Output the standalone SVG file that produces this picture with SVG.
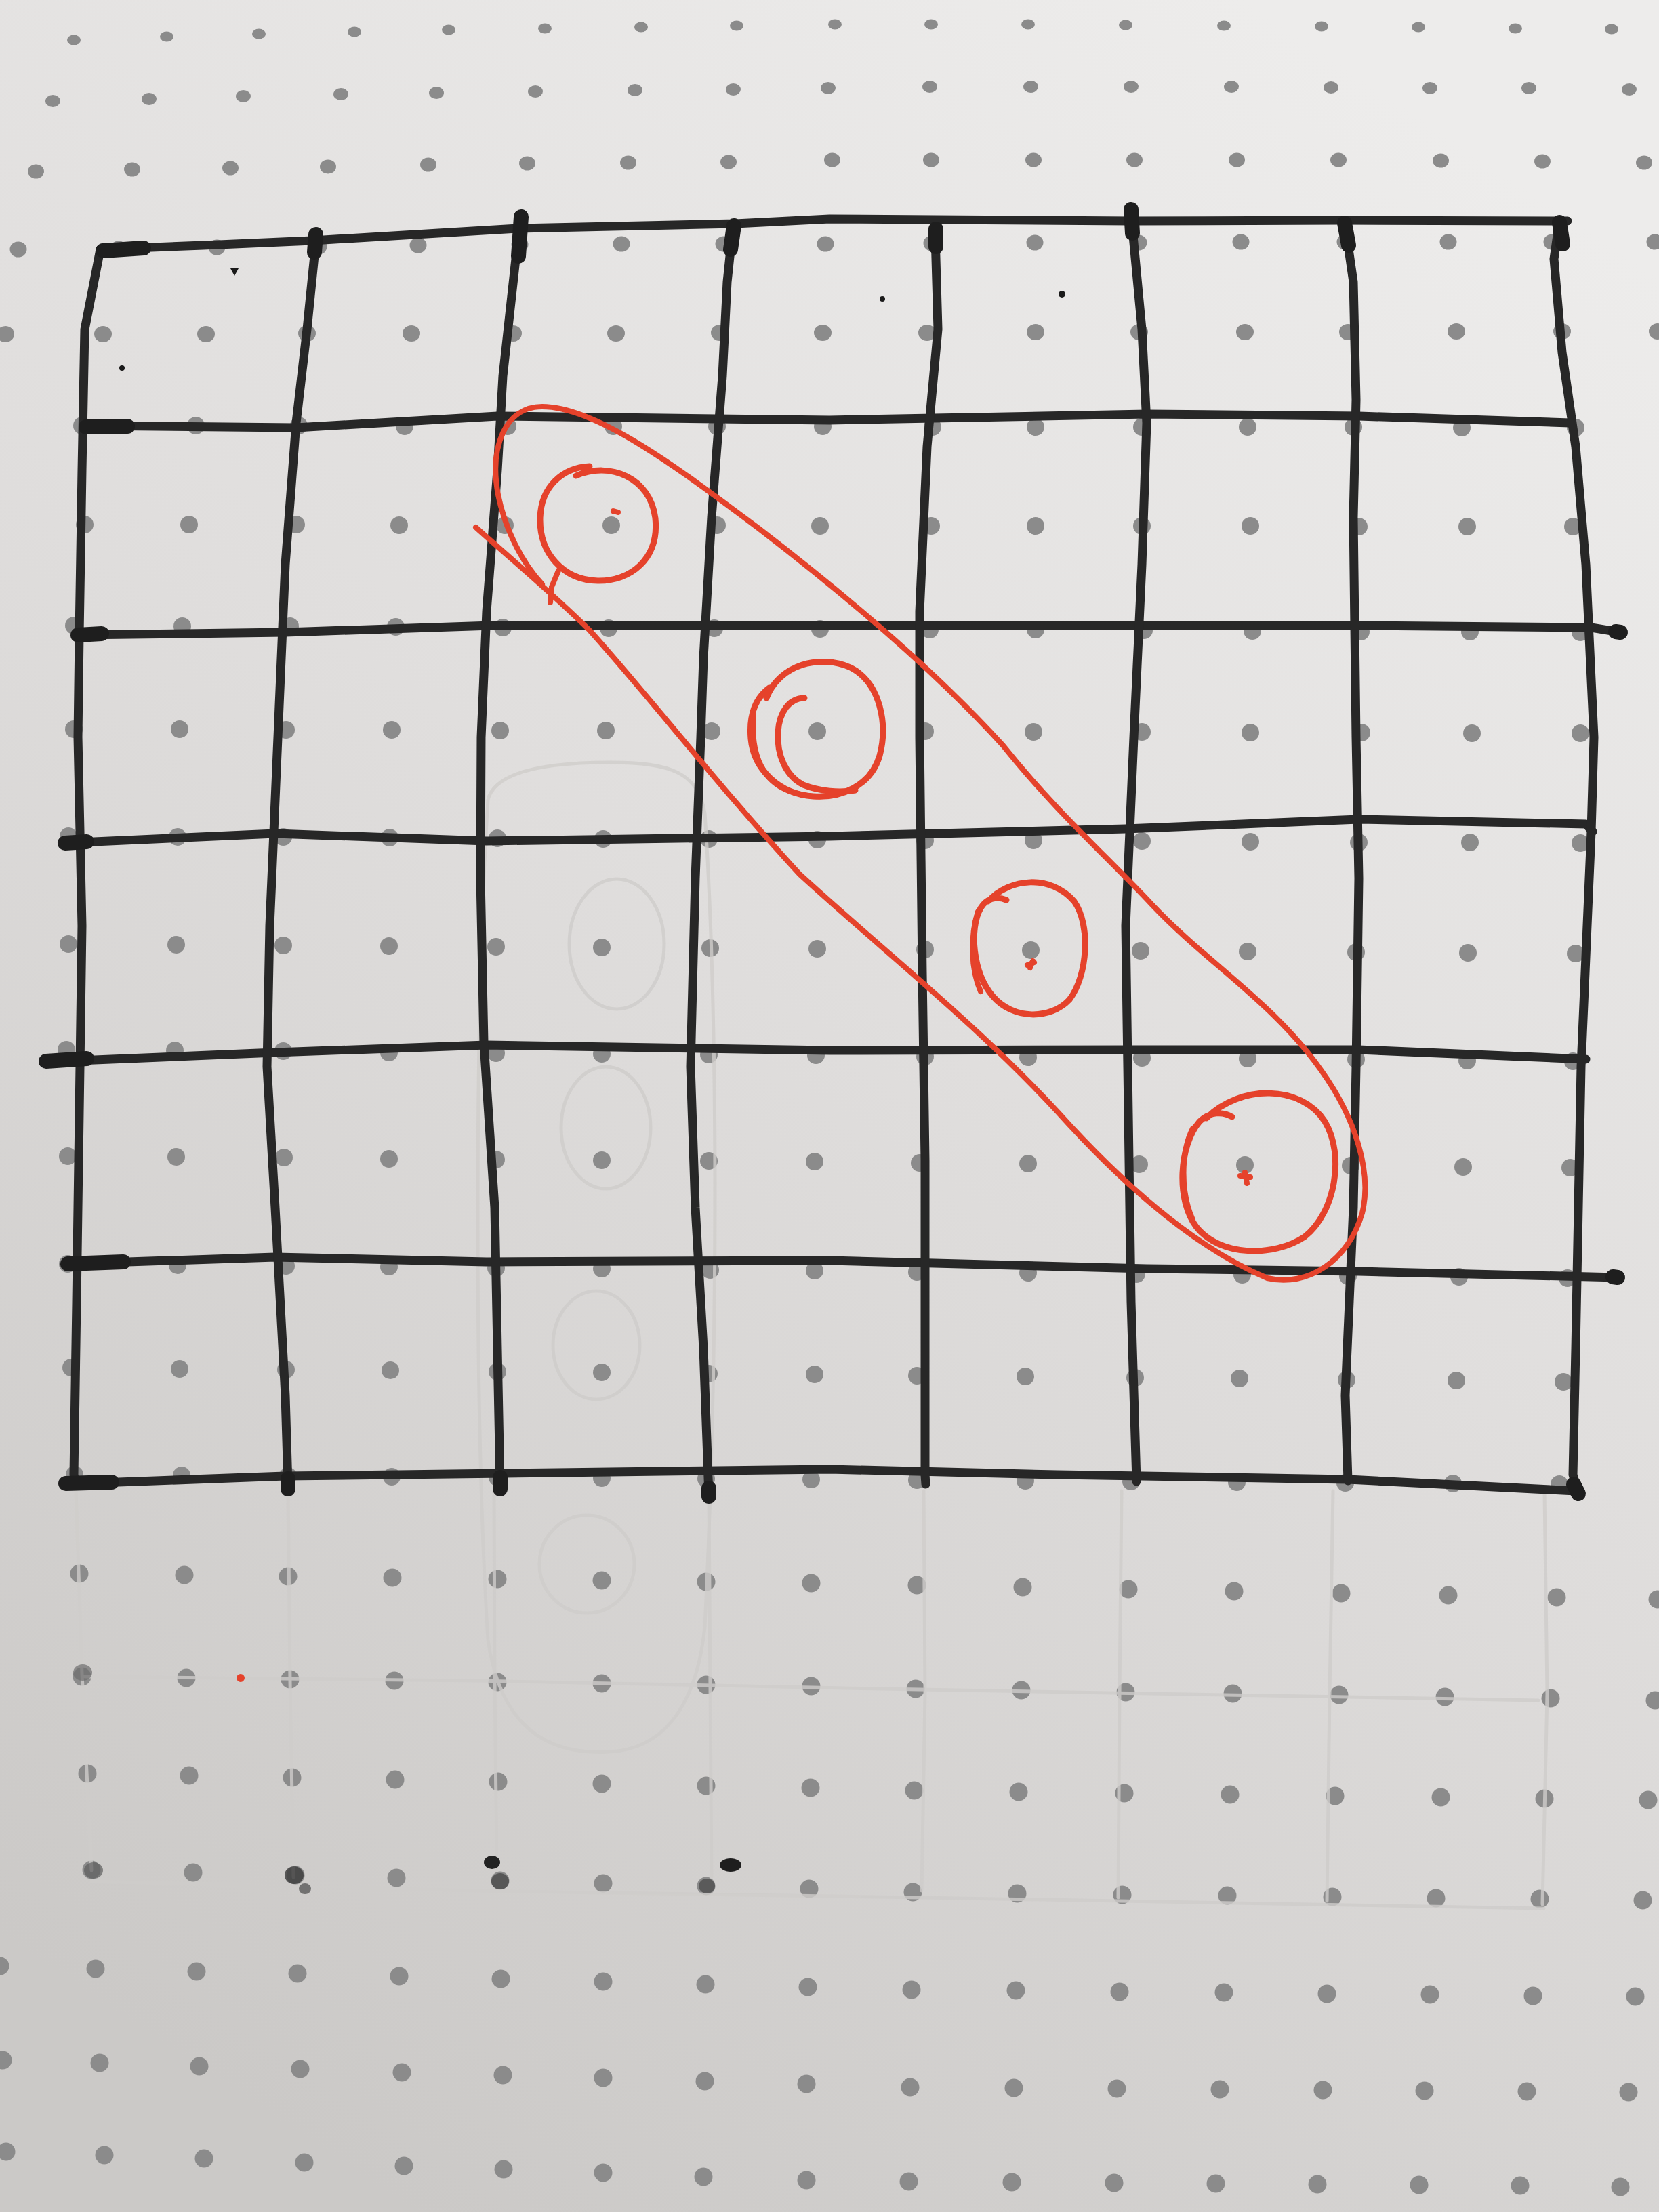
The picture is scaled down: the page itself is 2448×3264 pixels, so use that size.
<svg xmlns="http://www.w3.org/2000/svg" width="2448" height="3264" viewBox="0 0 2448 3264">
<defs>
<linearGradient id="paperGrad" x1="0.75" y1="0" x2="0.25" y2="1">
<stop offset="0" stop-color="#edeceb"/>
<stop offset="0.45" stop-color="#e0dedd"/>
<stop offset="1" stop-color="#cbc9c7"/>
</linearGradient>
<style>
.dt{fill:#8b8b8b}
.gh{fill:none;stroke:#cfcdcb;stroke-width:5;stroke-linecap:round;stroke-linejoin:round;opacity:0.8}
.ink{fill:none;stroke:#272727;stroke-width:13;stroke-linecap:round;stroke-linejoin:round}
.blob{fill:none;stroke:#1e1e1e;stroke-width:22;stroke-linecap:round}
.red{fill:none;stroke:#e5422b;stroke-width:8;stroke-linecap:round;stroke-linejoin:round}
.redc{fill:none;stroke:#e5422b;stroke-width:9;stroke-linecap:round;stroke-linejoin:round}
.speck{fill:#1a1a1a}
</style>
</defs>
<rect id="paper" x="0" y="0" width="2448" height="3264" fill="url(#paperGrad)"/>
<g id="dots" class="dt">
<ellipse cx="109" cy="59" rx="10" ry="7.5"/><ellipse cx="246" cy="54" rx="10" ry="7.5"/><ellipse cx="382" cy="50" rx="10" ry="7.5"/><ellipse cx="523" cy="47" rx="10" ry="7.5"/><ellipse cx="662" cy="44" rx="10" ry="7.5"/><ellipse cx="804" cy="42" rx="10" ry="7.5"/><ellipse cx="946" cy="40" rx="10" ry="7.5"/><ellipse cx="1087" cy="38" rx="10" ry="7.5"/><ellipse cx="1232" cy="36" rx="10" ry="7.5"/><ellipse cx="1374" cy="36" rx="10" ry="7.5"/><ellipse cx="1517" cy="36" rx="10" ry="7.5"/><ellipse cx="1661" cy="37" rx="10" ry="7.5"/><ellipse cx="1806" cy="38" rx="10" ry="7.5"/><ellipse cx="1950" cy="39" rx="10" ry="7.5"/><ellipse cx="2093" cy="40" rx="10" ry="7.5"/><ellipse cx="2236" cy="42" rx="10" ry="7.5"/><ellipse cx="2378" cy="43" rx="10" ry="7.5"/>
<ellipse cx="78" cy="149" rx="11" ry="9"/><ellipse cx="220" cy="146" rx="11" ry="9"/><ellipse cx="359" cy="142" rx="11" ry="9"/><ellipse cx="503" cy="139" rx="11" ry="9"/><ellipse cx="644" cy="137" rx="11" ry="9"/><ellipse cx="790" cy="135" rx="11" ry="9"/><ellipse cx="937" cy="133" rx="11" ry="9"/><ellipse cx="1082" cy="132" rx="11" ry="9"/><ellipse cx="1222" cy="130" rx="11" ry="9"/><ellipse cx="1372" cy="128" rx="11" ry="9"/><ellipse cx="1521" cy="128" rx="11" ry="9"/><ellipse cx="1669" cy="128" rx="11" ry="9"/><ellipse cx="1817" cy="128" rx="11" ry="9"/><ellipse cx="1964" cy="129" rx="11" ry="9"/><ellipse cx="2110" cy="130" rx="11" ry="9"/><ellipse cx="2256" cy="130" rx="11" ry="9"/><ellipse cx="2404" cy="132" rx="11" ry="9"/>
<ellipse cx="53" cy="253" rx="12" ry="10.5"/><ellipse cx="195" cy="250" rx="12" ry="10.5"/><ellipse cx="340" cy="248" rx="12" ry="10.5"/><ellipse cx="484" cy="246" rx="12" ry="10.5"/><ellipse cx="632" cy="243" rx="12" ry="10.5"/><ellipse cx="778" cy="241" rx="12" ry="10.5"/><ellipse cx="927" cy="240" rx="12" ry="10.5"/><ellipse cx="1075" cy="239" rx="12" ry="10.5"/><ellipse cx="1228" cy="236" rx="12" ry="10.5"/><ellipse cx="1374" cy="236" rx="12" ry="10.5"/><ellipse cx="1525" cy="236" rx="12" ry="10.5"/><ellipse cx="1674" cy="236" rx="12" ry="10.5"/><ellipse cx="1825" cy="236" rx="12" ry="10.5"/><ellipse cx="1975" cy="236" rx="12" ry="10.5"/><ellipse cx="2126" cy="237" rx="12" ry="10.5"/><ellipse cx="2276" cy="238" rx="12" ry="10.5"/><ellipse cx="2426" cy="240" rx="12" ry="10.5"/>
<ellipse cx="27" cy="368" rx="12.5" ry="11.5"/><ellipse cx="175" cy="367" rx="12.5" ry="11.5"/><ellipse cx="320" cy="365" rx="12.5" ry="11.5"/><ellipse cx="470" cy="364" rx="12.5" ry="11.5"/><ellipse cx="617" cy="362" rx="12.5" ry="11.5"/><ellipse cx="767" cy="361" rx="12.5" ry="11.5"/><ellipse cx="917" cy="360" rx="12.5" ry="11.5"/><ellipse cx="1068" cy="360" rx="12.5" ry="11.5"/><ellipse cx="1218" cy="360" rx="12.5" ry="11.5"/><ellipse cx="1375" cy="359" rx="12.5" ry="11.5"/><ellipse cx="1527" cy="358" rx="12.5" ry="11.5"/><ellipse cx="1680" cy="358" rx="12.5" ry="11.5"/><ellipse cx="1831" cy="357" rx="12.5" ry="11.5"/><ellipse cx="1985" cy="357" rx="12.5" ry="11.5"/><ellipse cx="2137" cy="357" rx="12.5" ry="11.5"/><ellipse cx="2290" cy="357" rx="12.5" ry="11.5"/><ellipse cx="2442" cy="357" rx="12.5" ry="11.5"/>
<ellipse cx="8" cy="493" rx="13" ry="12"/><ellipse cx="152" cy="493" rx="13" ry="12"/><ellipse cx="304" cy="493" rx="13" ry="12"/><ellipse cx="453" cy="492" rx="13" ry="12"/><ellipse cx="607" cy="492" rx="13" ry="12"/><ellipse cx="757" cy="492" rx="13" ry="12"/><ellipse cx="909" cy="492" rx="13" ry="12"/><ellipse cx="1062" cy="491" rx="13" ry="12"/><ellipse cx="1214" cy="491" rx="13" ry="12"/><ellipse cx="1368" cy="491" rx="13" ry="12"/><ellipse cx="1528" cy="490" rx="13" ry="12"/><ellipse cx="1681" cy="490" rx="13" ry="12"/><ellipse cx="1837" cy="490" rx="13" ry="12"/><ellipse cx="1989" cy="490" rx="13" ry="12"/><ellipse cx="2149" cy="489" rx="13" ry="12"/><ellipse cx="2305" cy="489" rx="13" ry="12"/><ellipse cx="2446" cy="489" rx="13" ry="12"/>
<circle cx="121" cy="628" r="13"/><circle cx="289" cy="628" r="13"/><circle cx="441" cy="628" r="13"/><circle cx="597" cy="629" r="13"/><circle cx="749" cy="629" r="13"/><circle cx="905" cy="629" r="13"/><circle cx="1058" cy="629" r="13"/><circle cx="1214" cy="629" r="13"/><circle cx="1376" cy="630" r="13"/><circle cx="1528" cy="630" r="13"/><circle cx="1685" cy="630" r="13"/><circle cx="1841" cy="630" r="13"/><circle cx="1997" cy="630" r="13"/><circle cx="2157" cy="631" r="13"/><circle cx="2325" cy="631" r="13"/>
<circle cx="125" cy="774" r="13"/><circle cx="279" cy="774" r="13"/><circle cx="437" cy="774" r="13"/><circle cx="589" cy="775" r="13"/><circle cx="745" cy="775" r="13"/><circle cx="902" cy="775" r="13"/><circle cx="1058" cy="775" r="13"/><circle cx="1210" cy="776" r="13"/><circle cx="1374" cy="776" r="13"/><circle cx="1528" cy="776" r="13"/><circle cx="1685" cy="776" r="13"/><circle cx="1845" cy="776" r="13"/><circle cx="2005" cy="777" r="13"/><circle cx="2165" cy="777" r="13"/><circle cx="2321" cy="777" r="13"/>
<circle cx="109" cy="923" r="13"/><circle cx="269" cy="924" r="13"/><circle cx="428" cy="924" r="13"/><circle cx="584" cy="925" r="13"/><circle cx="742" cy="926" r="13"/><circle cx="898" cy="927" r="13"/><circle cx="1054" cy="927" r="13"/><circle cx="1210" cy="928" r="13"/><circle cx="1372" cy="929" r="13"/><circle cx="1528" cy="929" r="13"/><circle cx="1688" cy="930" r="13"/><circle cx="1848" cy="931" r="13"/><circle cx="2008" cy="932" r="13"/><circle cx="2169" cy="932" r="13"/><circle cx="2332" cy="933" r="13"/>
<circle cx="109" cy="1076" r="13"/><circle cx="265" cy="1076" r="13"/><circle cx="422" cy="1077" r="13"/><circle cx="578" cy="1077" r="13"/><circle cx="738" cy="1078" r="13"/><circle cx="894" cy="1078" r="13"/><circle cx="1050" cy="1079" r="13"/><circle cx="1206" cy="1079" r="13"/><circle cx="1365" cy="1079" r="13"/><circle cx="1525" cy="1080" r="13"/><circle cx="1685" cy="1080" r="13"/><circle cx="1845" cy="1081" r="13"/><circle cx="2009" cy="1081" r="13"/><circle cx="2172" cy="1082" r="13"/><circle cx="2332" cy="1082" r="13"/>
<circle cx="101" cy="1234" r="13"/><circle cx="262" cy="1235" r="13"/><circle cx="418" cy="1235" r="13"/><circle cx="575" cy="1236" r="13"/><circle cx="734" cy="1237" r="13"/><circle cx="890" cy="1238" r="13"/><circle cx="1046" cy="1238" r="13"/><circle cx="1206" cy="1239" r="13"/><circle cx="1365" cy="1240" r="13"/><circle cx="1525" cy="1240" r="13"/><circle cx="1685" cy="1241" r="13"/><circle cx="1845" cy="1242" r="13"/><circle cx="2005" cy="1243" r="13"/><circle cx="2169" cy="1243" r="13"/><circle cx="2332" cy="1244" r="13"/>
<circle cx="101" cy="1393" r="13"/><circle cx="260" cy="1394" r="13"/><circle cx="418" cy="1395" r="13"/><circle cx="574" cy="1396" r="13"/><circle cx="732" cy="1397" r="13"/><circle cx="888" cy="1398" r="13"/><circle cx="1048" cy="1399" r="13"/><circle cx="1206" cy="1400" r="13"/><circle cx="1365" cy="1401" r="13"/><circle cx="1521" cy="1402" r="13"/><circle cx="1683" cy="1403" r="13"/><circle cx="1841" cy="1404" r="13"/><circle cx="2001" cy="1405" r="13"/><circle cx="2166" cy="1406" r="13"/><circle cx="2325" cy="1407" r="13"/>
<circle cx="98" cy="1549" r="13"/><circle cx="258" cy="1550" r="13"/><circle cx="418" cy="1551" r="13"/><circle cx="574" cy="1553" r="13"/><circle cx="732" cy="1554" r="13"/><circle cx="888" cy="1555" r="13"/><circle cx="1046" cy="1556" r="13"/><circle cx="1204" cy="1557" r="13"/><circle cx="1365" cy="1559" r="13"/><circle cx="1517" cy="1560" r="13"/><circle cx="1685" cy="1561" r="13"/><circle cx="1841" cy="1562" r="13"/><circle cx="2001" cy="1563" r="13"/><circle cx="2165" cy="1565" r="13"/><circle cx="2321" cy="1566" r="13"/>
<circle cx="100" cy="1706" r="13"/><circle cx="260" cy="1707" r="13"/><circle cx="419" cy="1708" r="13"/><circle cx="574" cy="1710" r="13"/><circle cx="732" cy="1711" r="13"/><circle cx="888" cy="1712" r="13"/><circle cx="1046" cy="1713" r="13"/><circle cx="1202" cy="1714" r="13"/><circle cx="1357" cy="1716" r="13"/><circle cx="1517" cy="1717" r="13"/><circle cx="1681" cy="1718" r="13"/><circle cx="1837" cy="1719" r="13"/><circle cx="1993" cy="1720" r="13"/><circle cx="2159" cy="1722" r="13"/><circle cx="2317" cy="1723" r="13"/>
<circle cx="100" cy="1865" r="13"/><circle cx="262" cy="1867" r="13"/><circle cx="422" cy="1868" r="13"/><circle cx="574" cy="1869" r="13"/><circle cx="732" cy="1871" r="13"/><circle cx="888" cy="1872" r="13"/><circle cx="1048" cy="1874" r="13"/><circle cx="1202" cy="1875" r="13"/><circle cx="1353" cy="1877" r="13"/><circle cx="1517" cy="1878" r="13"/><circle cx="1677" cy="1880" r="13"/><circle cx="1833" cy="1881" r="13"/><circle cx="1989" cy="1883" r="13"/><circle cx="2153" cy="1884" r="13"/><circle cx="2313" cy="1886" r="13"/>
<circle cx="105" cy="2018" r="13"/><circle cx="265" cy="2020" r="13"/><circle cx="422" cy="2021" r="13"/><circle cx="576" cy="2022" r="13"/><circle cx="734" cy="2024" r="13"/><circle cx="888" cy="2025" r="13"/><circle cx="1046" cy="2027" r="13"/><circle cx="1202" cy="2028" r="13"/><circle cx="1353" cy="2030" r="13"/><circle cx="1513" cy="2031" r="13"/><circle cx="1675" cy="2033" r="13"/><circle cx="1829" cy="2034" r="13"/><circle cx="1987" cy="2036" r="13"/><circle cx="2149" cy="2037" r="13"/><circle cx="2307" cy="2039" r="13"/>
<circle cx="110" cy="2176" r="13"/><circle cx="268" cy="2177" r="13"/><circle cx="425" cy="2178" r="13"/><circle cx="578" cy="2179" r="13"/><circle cx="734" cy="2180" r="13"/><circle cx="888" cy="2181" r="13"/><circle cx="1042" cy="2182" r="13"/><circle cx="1197" cy="2183" r="13"/><circle cx="1353" cy="2184" r="13"/><circle cx="1513" cy="2185" r="13"/><circle cx="1669" cy="2186" r="13"/><circle cx="1825" cy="2187" r="13"/><circle cx="1985" cy="2188" r="13"/><circle cx="2144" cy="2189" r="13"/><circle cx="2301" cy="2190" r="13"/>
<circle cx="117" cy="2322" r="13.5"/><circle cx="272" cy="2324" r="13.5"/><circle cx="425" cy="2326" r="13.5"/><circle cx="579" cy="2328" r="13.5"/><circle cx="734" cy="2330" r="13.5"/><circle cx="888" cy="2332" r="13.5"/><circle cx="1042" cy="2334" r="13.5"/><circle cx="1197" cy="2336" r="13.5"/><circle cx="1353" cy="2339" r="13.5"/><circle cx="1509" cy="2342" r="13.5"/><circle cx="1665" cy="2345" r="13.5"/><circle cx="1821" cy="2348" r="13.5"/><circle cx="1979" cy="2351" r="13.5"/><circle cx="2137" cy="2354" r="13.5"/><circle cx="2297" cy="2357" r="13.5"/><circle cx="2446" cy="2360" r="13.5"/>
<circle cx="121" cy="2474" r="13.5"/><circle cx="275" cy="2476" r="13.5"/><circle cx="428" cy="2478" r="13.5"/><circle cx="582" cy="2480" r="13.5"/><circle cx="734" cy="2482" r="13.5"/><circle cx="888" cy="2484" r="13.5"/><circle cx="1042" cy="2486" r="13.5"/><circle cx="1197" cy="2488" r="13.5"/><circle cx="1351" cy="2492" r="13.5"/><circle cx="1507" cy="2494" r="13.5"/><circle cx="1661" cy="2497" r="13.5"/><circle cx="1819" cy="2499" r="13.5"/><circle cx="1976" cy="2501" r="13.5"/><circle cx="2132" cy="2504" r="13.5"/><circle cx="2288" cy="2506" r="13.5"/><circle cx="2442" cy="2509" r="13.5"/>
<circle cx="129" cy="2617" r="13.5"/><circle cx="279" cy="2620" r="13.5"/><circle cx="431" cy="2623" r="13.5"/><circle cx="583" cy="2626" r="13.5"/><circle cx="735" cy="2629" r="13.5"/><circle cx="888" cy="2632" r="13.5"/><circle cx="1042" cy="2635" r="13.5"/><circle cx="1196" cy="2638" r="13.5"/><circle cx="1349" cy="2642" r="13.5"/><circle cx="1503" cy="2644" r="13.5"/><circle cx="1659" cy="2646" r="13.5"/><circle cx="1815" cy="2648" r="13.5"/><circle cx="1970" cy="2650" r="13.5"/><circle cx="2126" cy="2652" r="13.5"/><circle cx="2279" cy="2654" r="13.5"/><circle cx="2432" cy="2656" r="13.5"/>
<circle cx="135" cy="2759" r="13.5"/><circle cx="285" cy="2763" r="13.5"/><circle cx="436" cy="2767" r="13.5"/><circle cx="585" cy="2771" r="13.5"/><circle cx="738" cy="2775" r="13.5"/><circle cx="890" cy="2779" r="13.5"/><circle cx="1042" cy="2783" r="13.5"/><circle cx="1194" cy="2787" r="13.5"/><circle cx="1347" cy="2792" r="13.5"/><circle cx="1501" cy="2794" r="13.5"/><circle cx="1656" cy="2796" r="13.5"/><circle cx="1811" cy="2797" r="13.5"/><circle cx="1966" cy="2799" r="13.5"/><circle cx="2119" cy="2801" r="13.5"/><circle cx="2272" cy="2802" r="13.5"/><circle cx="2424" cy="2804" r="13.5"/>
<circle cx="0" cy="2901" r="13.5"/><circle cx="141" cy="2905" r="13.5"/><circle cx="290" cy="2909" r="13.5"/><circle cx="439" cy="2912" r="13.5"/><circle cx="589" cy="2916" r="13.5"/><circle cx="739" cy="2920" r="13.5"/><circle cx="890" cy="2924" r="13.5"/><circle cx="1041" cy="2928" r="13.5"/><circle cx="1192" cy="2932" r="13.5"/><circle cx="1345" cy="2936" r="13.5"/><circle cx="1499" cy="2937" r="13.5"/><circle cx="1652" cy="2939" r="13.5"/><circle cx="1806" cy="2940" r="13.5"/><circle cx="1958" cy="2942" r="13.5"/><circle cx="2110" cy="2943" r="13.5"/><circle cx="2262" cy="2945" r="13.5"/><circle cx="2413" cy="2946" r="13.5"/>
<circle cx="4" cy="3040" r="13.5"/><circle cx="147" cy="3044" r="13.5"/><circle cx="294" cy="3049" r="13.5"/><circle cx="443" cy="3053" r="13.5"/><circle cx="593" cy="3058" r="13.5"/><circle cx="742" cy="3062" r="13.5"/><circle cx="890" cy="3066" r="13.5"/><circle cx="1040" cy="3071" r="13.5"/><circle cx="1190" cy="3075" r="13.5"/><circle cx="1343" cy="3080" r="13.5"/><circle cx="1496" cy="3081" r="13.5"/><circle cx="1648" cy="3082" r="13.5"/><circle cx="1800" cy="3083" r="13.5"/><circle cx="1952" cy="3084" r="13.5"/><circle cx="2102" cy="3085" r="13.5"/><circle cx="2253" cy="3086" r="13.5"/><circle cx="2403" cy="3087" r="13.5"/>
<circle cx="9" cy="3175" r="13.5"/><circle cx="154" cy="3180" r="13.5"/><circle cx="301" cy="3185" r="13.5"/><circle cx="449" cy="3191" r="13.5"/><circle cx="596" cy="3196" r="13.5"/><circle cx="743" cy="3201" r="13.5"/><circle cx="890" cy="3206" r="13.5"/><circle cx="1038" cy="3212" r="13.5"/><circle cx="1190" cy="3217" r="13.5"/><circle cx="1341" cy="3219" r="13.5"/><circle cx="1493" cy="3220" r="13.5"/><circle cx="1644" cy="3221" r="13.5"/><circle cx="1794" cy="3222" r="13.5"/><circle cx="1944" cy="3223" r="13.5"/><circle cx="2094" cy="3224" r="13.5"/><circle cx="2243" cy="3225" r="13.5"/><circle cx="2391" cy="3227" r="13.5"/>
</g>
<g id="show-through" class="gh">
<path d="M112,2200 L121,2470 L135,2760"/>
<path d="M425,2200 L428,2480 L433,2770"/>
<path d="M729,2200 L730,2480 L733,2760"/>
<path d="M1046,2210 L1048,2490 L1050,2770"/>
<path d="M1363,2200 L1365,2500 L1360,2790"/>
<path d="M1655,2200 L1652,2500 L1650,2800"/>
<path d="M1967,2200 L1962,2500 L1958,2805"/>
<path d="M2279,2200 L2283,2500 L2276,2810"/>
<path d="M125,2474 L700,2480 L1300,2492 L2270,2509"/>
<path d="M135,2776 L700,2790 L1360,2800 L2278,2816"/>
<path d="M720,1180 C700,1500 700,2100 720,2420 C740,2560 820,2590 900,2585 C990,2580 1030,2500 1040,2400 C1060,2000 1060,1500 1040,1200 C1030,1140 990,1125 900,1125 C800,1125 730,1140 720,1180 Z"/>
<ellipse cx="910" cy="1393" rx="70" ry="96"/>
<ellipse cx="894" cy="1664" rx="66" ry="90"/>
<ellipse cx="880" cy="1985" rx="64" ry="80"/>
<ellipse cx="866" cy="2308" rx="70" ry="72"/>
</g>
<g id="specks">
<path class="speck" d="M340,396 L352,396 L346,407 Z"/>
<circle class="speck" cx="180" cy="543" r="4"/>
<circle class="speck" cx="1302" cy="441" r="4"/>
<circle class="speck" cx="1567" cy="434" r="5"/>
<ellipse cx="122" cy="2468" rx="14" ry="12" fill="#6e6e6e" opacity="0.7"/>
<ellipse cx="138" cy="2760" rx="14" ry="12" fill="#5e5e5e" opacity="0.7"/>
<ellipse cx="434" cy="2767" rx="14" ry="13" fill="#3a3a3a" opacity="0.8"/>
<ellipse cx="450" cy="2787" rx="9" ry="8" fill="#4a4a4a" opacity="0.7"/>
<ellipse cx="726" cy="2748" rx="12" ry="10" fill="#222"/>
<ellipse cx="738" cy="2776" rx="13" ry="12" fill="#4a4a4a" opacity="0.8"/>
<ellipse cx="1078" cy="2752" rx="16" ry="10" fill="#1e1e1e"/>
<ellipse cx="1043" cy="2783" rx="12" ry="11" fill="#4e4e4e" opacity="0.8"/>
<circle cx="355" cy="2476" r="6" fill="#e5422b"/>
</g>
<g id="grid">
<path class="ink" d="M148,368 L300,362 L461,355 L765,337 L1085,330 L1224,323 L1669,326 L1981,325 L2313,326"/>
<path class="ink" d="M125,628 L437,631 L734,614 L1224,620 L1692,611 L2005,614 L2317,624"/>
<path class="ink" d="M113,937 L421,933 L726,923 L1224,923 L1692,923 L2005,923 L2348,926 L2391,933"/>
<path class="ink" d="M94,1244 L406,1230 L718,1241 L1224,1234 L1661,1223 L2005,1209 L2340,1216 L2350,1227"/>
<path class="ink" d="M66,1567 L406,1553 L718,1542 L1224,1550 L1677,1549 L2005,1549 L2340,1563"/>
<path class="ink" d="M98,1865 L406,1855 L718,1862 L1224,1860 L1692,1872 L2005,1876 L2387,1885"/>
<path class="ink" d="M94,2190 L421,2178 L1224,2168 L1560,2176 L1989,2183 L2325,2200"/>
<path class="ink" d="M148,368 L125,486 L121,694 L117,937 L115,1088 L121,1366 L117,1643 L113,1921 L109,2176 L112,2192"/>
<path class="ink" d="M466,357 L453,486 L437,624 L421,833 L410,1088 L398,1366 L394,1574 L406,1782 L421,2059 L425,2192"/>
<path class="ink" d="M769,326 L761,382 L742,555 L734,694 L718,902 L710,1088 L709,1296 L714,1539 L730,1782 L734,1990 L738,2193"/>
<path class="ink" d="M1081,340 L1073,416 L1066,555 L1050,763 L1038,971 L1034,1088 L1026,1296 L1019,1574 L1026,1782 L1038,1990 L1046,2207"/>
<path class="ink" d="M1380,347 L1384,486 L1368,659 L1357,902 L1357,1088 L1361,1435 L1365,1712 L1365,1990 L1365,2176 L1366,2190"/>
<path class="ink" d="M1669,316 L1685,486 L1692,624 L1685,833 L1673,1088 L1661,1366 L1665,1643 L1669,1921 L1677,2186"/>
<path class="ink" d="M1985,333 L1997,416 L2001,590 L1997,763 L2001,1088 L2005,1296 L2001,1574 L1997,1782 L1985,2059 L1989,2185"/>
<path class="ink" d="M2301,326 L2293,382 L2305,520 L2325,659 L2340,833 L2352,1088 L2348,1227 L2333,1574 L2325,1990 L2321,2176 L2329,2204"/>
<path class="blob" d="M152,370 L212,366"/>
<path class="blob" d="M466,346 L464,372"/>
<path class="blob" d="M769,320 L765,378"/>
<path class="blob" d="M1083,333 L1078,368"/>
<path class="blob" d="M1381,338 L1381,364"/>
<path class="blob" d="M1669,309 L1671,344"/>
<path class="blob" d="M1984,329 L1990,362"/>
<path class="blob" d="M2301,328 L2306,360"/>
<path class="blob" d="M127,630 L188,629"/>
<path class="blob" d="M115,937 L150,935"/>
<path class="blob" d="M96,1244 L128,1242"/>
<path class="blob" d="M68,1566 L128,1562"/>
<path class="blob" d="M100,1865 L182,1862"/>
<path class="blob" d="M97,2189 L165,2187"/>
<path class="blob" d="M425,2182 L425,2197"/>
<path class="blob" d="M738,2180 L738,2197"/>
<path class="blob" d="M1046,2196 L1046,2208"/>
<path class="blob" d="M2322,2190 L2329,2204"/>
<path class="blob" d="M2384,932 L2391,933"/>
<path class="blob" d="M2380,1884 L2387,1885"/>
</g>
<g id="loop">
<path class="red" d="M702,778 C760,830 820,880 870,930 C960,1030 1060,1160 1180,1290 C1300,1400 1440,1510 1560,1640 C1650,1740 1760,1840 1870,1886 C1930,1900 1990,1860 2010,1790 C2025,1730 2000,1650 1950,1580 C1880,1480 1780,1420 1700,1335 C1640,1270 1560,1200 1480,1100 C1380,990 1250,880 1120,780 C1000,690 880,600 800,600 C745,600 722,660 735,730 C745,780 770,830 800,862"/>
</g>
<g id="circle-1">
<path class="redc" d="M850,702 C900,680 960,705 967,765 C973,825 930,858 882,857 C830,856 796,815 797,765 C798,718 830,690 870,688"/>
<path class="red" d="M824,842 L814,866 L812,889"/>
<path class="red" d="M905,754 L912,756"/>
</g>
<g id="circle-2">
<path class="redc" d="M1131,1030 C1150,980 1210,965 1255,985 C1300,1008 1310,1070 1298,1115 C1285,1160 1240,1178 1200,1175 C1150,1172 1112,1135 1108,1090 C1105,1055 1115,1030 1135,1015"/>
<path class="red" d="M1112,1055 C1108,1100 1118,1140 1150,1160 C1170,1172 1195,1176 1215,1175"/>
<path class="redc" d="M1187,1030 C1165,1030 1150,1050 1148,1080 C1146,1115 1160,1145 1185,1158 C1210,1168 1240,1170 1262,1166"/>
</g>
<g id="circle-3">
<path class="redc" d="M1458,1330 C1490,1295 1550,1290 1585,1330 C1610,1365 1605,1440 1578,1475 C1550,1505 1495,1505 1465,1470 C1435,1435 1430,1370 1447,1340 C1455,1326 1470,1322 1485,1328"/>
<path class="red" d="M1443,1345 C1432,1380 1432,1430 1447,1463"/>
<path class="red" d="M1516,1424 L1526,1420 M1520,1428 L1524,1418"/>
</g>
<g id="circle-4">
<path class="redc" d="M1780,1650 C1830,1600 1920,1600 1955,1655 C1985,1705 1970,1790 1925,1825 C1880,1855 1800,1855 1765,1810 C1735,1770 1740,1690 1770,1655 C1785,1640 1805,1640 1818,1648"/>
<path class="red" d="M1760,1665 C1742,1700 1742,1760 1760,1800"/>
<path class="red" d="M1830,1735 L1845,1737 M1837,1730 L1840,1746"/>
</g>
</svg>
